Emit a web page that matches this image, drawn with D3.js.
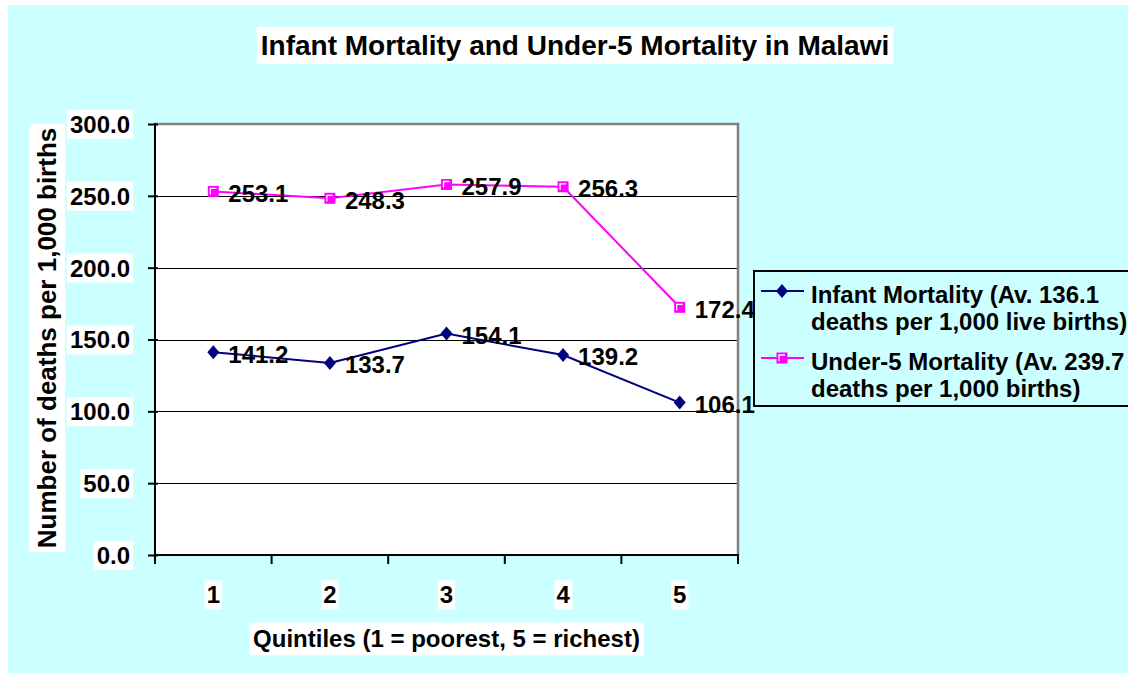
<!DOCTYPE html>
<html>
<head>
<meta charset="utf-8">
<script src="https://cdn.jsdelivr.net/npm/d3@7"></script>
<style>
  html, body { margin: 0; padding: 0; background: #ffffff; }
  svg { display: block; }
  text { font-family: "Liberation Sans", Arial, sans-serif; font-weight: bold; fill: #000; }
</style>
</head>
<body>
<svg id="chart" width="1128" height="673"></svg>
<script>
// ---- data ----
const categories = ["1", "2", "3", "4", "5"];
const infantValues = [141.2, 133.7, 154.1, 139.2, 106.1];
const under5Values = [253.1, 248.3, 257.9, 256.3, 172.4];
const yTickValues = [0, 50, 100, 150, 200, 250, 300];
const seriesNames = [
  ["Infant Mortality (Av. 136.1", "deaths per 1,000 live births)"],
  ["Under-5 Mortality (Av. 239.7", "deaths per 1,000 births)"]
];
const chartTitle = "Infant Mortality and Under-5 Mortality in Malawi";
const xTitle = "Quintiles (1 = poorest, 5 = richest)";
const yTitle = "Number of deaths per 1,000 births";

// ---- layout ----
const W = 1128, H = 673;
const plot = { left: 155, right: 738, top: 124, bottom: 555 };
const svg = d3.select("#chart");

// background
svg.append("rect").attr("x", 0).attr("y", 0).attr("width", W).attr("height", H).attr("fill", "#ffffff");
svg.append("rect").attr("x", 8).attr("y", 5).attr("width", W - 8).attr("height", H - 5).attr("fill", "#CCFFFF");

// scales
const x = d3.scaleBand().domain(categories).range([plot.left, plot.right]).padding(0);
const y = d3.scaleLinear().domain([0, 300]).range([plot.bottom, plot.top]);
const cx = c => x(c) + x.bandwidth() / 2;

// plot area
svg.append("rect")
  .attr("x", plot.left).attr("y", plot.top)
  .attr("width", plot.right - plot.left).attr("height", plot.bottom - plot.top)
  .attr("fill", "#ffffff");

// gridlines
svg.append("g").selectAll("line")
  .data(yTickValues.filter(v => v > 0 && v < 300))
  .join("line")
  .attr("x1", plot.left).attr("x2", plot.right)
  .attr("y1", d => Math.round(y(d)) + 0.5).attr("y2", d => Math.round(y(d)) + 0.5)
  .attr("stroke", "#000").attr("stroke-width", 1.2);

// plot border (top and right gray)
svg.append("path")
  .attr("d", `M${plot.left},${plot.top} H${plot.right} V${plot.bottom}`)
  .attr("fill", "none").attr("stroke", "#808080").attr("stroke-width", 2.5);

// y axis
const yAxis = d3.axisLeft(y).tickValues(yTickValues).tickSize(0).tickFormat(d3.format(".1f"));
const yG = svg.append("g").attr("transform", `translate(${plot.left},0)`).call(yAxis);
yG.select(".domain").remove();
yG.selectAll(".tick line").remove();
yG.selectAll(".tick").append("line")
  .attr("x1", -7).attr("x2", 3).attr("stroke", "#000").attr("stroke-width", 2);
yG.selectAll(".tick text")
  .attr("x", -25).attr("dy", "0.35em")
  .style("font-size", "24px").style("font-family", "'Liberation Sans', Arial, sans-serif")
  .style("font-weight", "bold").attr("fill", "#000");
yG.selectAll(".tick").each(function() {
  const t = d3.select(this).select("text");
  const bb = t.node().getBBox();
  d3.select(this).insert("rect", "text")
    .attr("x", bb.x - 3).attr("y", bb.y - 1).attr("width", bb.width + 6).attr("height", bb.height + 2)
    .attr("fill", "#ffffff");
});
svg.append("line")
  .attr("x1", plot.left).attr("x2", plot.left).attr("y1", plot.top - 1).attr("y2", plot.bottom + 1)
  .attr("stroke", "#000").attr("stroke-width", 2);

// x axis
const xAxis = d3.axisBottom(x).tickSize(0);
const xG = svg.append("g").attr("transform", `translate(0,${plot.bottom})`).call(xAxis);
xG.select(".domain").remove();
xG.selectAll(".tick line").remove();
xG.selectAll(".tick text")
  .attr("y", 40).attr("dy", "0.35em")
  .style("font-size", "24px").style("font-family", "'Liberation Sans', Arial, sans-serif")
  .style("font-weight", "bold").attr("fill", "#000");
xG.selectAll(".tick").each(function() {
  const t = d3.select(this).select("text");
  const bb = t.node().getBBox();
  d3.select(this).insert("rect", "text")
    .attr("x", bb.x - 2).attr("y", bb.y - 1).attr("width", bb.width + 4).attr("height", bb.height + 2)
    .attr("fill", "#ffffff");
});
const boundaries = categories.map(c => x(c)).concat([plot.right]);
svg.append("g").selectAll("line").data(boundaries).join("line")
  .attr("x1", d => d).attr("x2", d => d)
  .attr("y1", plot.bottom).attr("y2", plot.bottom + 9)
  .attr("stroke", "#000").attr("stroke-width", 2);
svg.append("line")
  .attr("x1", plot.left - 1).attr("x2", plot.right + 1).attr("y1", plot.bottom).attr("y2", plot.bottom)
  .attr("stroke", "#000").attr("stroke-width", 2);

// helper: text with white background
function boxedText(g, tx, ty, str, size, rotate) {
  const grp = g.append("g").attr("transform", `translate(${tx},${ty})` + (rotate ? ` rotate(${rotate})` : ""));
  const t = grp.append("text").attr("text-anchor", "middle").attr("dy", "0.35em")
    .style("font-size", size + "px").text(str);
  const bb = t.node().getBBox();
  grp.insert("rect", "text")
    .attr("x", bb.x - 4).attr("y", bb.y - 3).attr("width", bb.width + 8).attr("height", bb.height + 6)
    .attr("fill", "#ffffff");
  return grp;
}

// titles
boxedText(svg, 575, 45, chartTitle, 28);
boxedText(svg, (plot.left + plot.right) / 2, 639, xTitle, 24);
boxedText(svg, 47, 338, yTitle, 26, -90);

// series
const series = [
  { values: infantValues, color: "#000080", marker: "diamond" },
  { values: under5Values, color: "#FF00FF", marker: "square" }
];

const line = d3.line().x((d, i) => cx(categories[i])).y(d => y(d));

function drawMarker(g, type, color) {
  if (type === "diamond") {
    g.append("path").attr("d", "M0,-7 L6,0 L0,7 L-6,0 Z").attr("fill", color);
  } else {
    g.append("rect").attr("x", -5.5).attr("y", -5.5).attr("width", 11).attr("height", 11).attr("fill", color);
    g.append("path").attr("d", "M-3,3 V-3 H3").attr("fill", "none").attr("stroke", "#ffffff").attr("stroke-width", 1.3);
  }
}

series.forEach(s => {
  svg.append("path").datum(s.values).attr("d", line)
    .attr("fill", "none").attr("stroke", s.color).attr("stroke-width", 2);
  s.values.forEach((v, i) => {
    const g = svg.append("g").attr("transform", `translate(${cx(categories[i])},${y(v)})`);
    drawMarker(g, s.marker, s.color);
  });
});

// data labels
series.forEach(s => {
  svg.append("g").selectAll("text").data(s.values).join("text")
    .attr("x", (d, i) => cx(categories[i]) + 15)
    .attr("y", d => y(d) + 2)
    .attr("dy", "0.35em")
    .style("font-size", "24px")
    .text(d => d3.format(".1f")(d));
});

// legend
const leg = { x: 754, y: 271, w: 380, h: 135 };
svg.append("rect").attr("x", leg.x).attr("y", leg.y).attr("width", leg.w).attr("height", leg.h)
  .attr("fill", "none").attr("stroke", "#000").attr("stroke-width", 2);
const legRows = [291, 358];
series.forEach((s, i) => {
  const ly = legRows[i];
  svg.append("line").attr("x1", 761).attr("x2", 804).attr("y1", ly).attr("y2", ly)
    .attr("stroke", s.color).attr("stroke-width", 2);
  drawMarker(svg.append("g").attr("transform", `translate(782,${ly})`), s.marker, s.color);
  const t = svg.append("text").attr("x", 811).attr("y", ly + 4).style("font-size", "24px");
  t.append("tspan").attr("x", 811).attr("dy", "0.35em").text(seriesNames[i][0]);
  t.append("tspan").attr("x", 811).attr("dy", "27px").text(seriesNames[i][1]);
});
</script>
</body>
</html>
